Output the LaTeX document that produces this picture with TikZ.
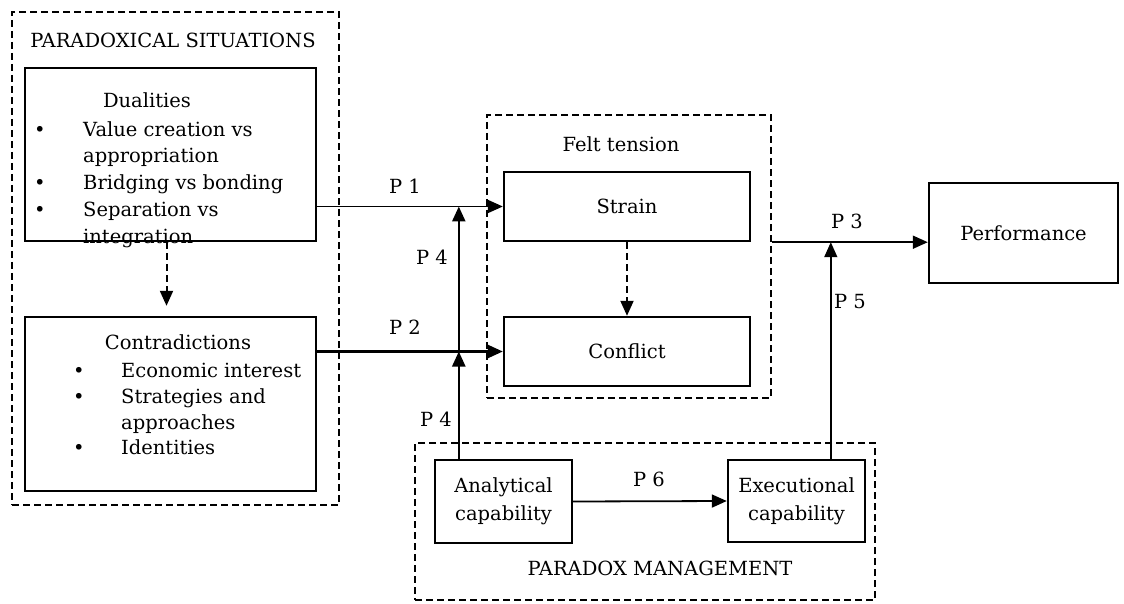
\documentclass[tikz,border=0pt]{standalone}
\usepackage{fontspec}
\setmainfont{DejaVu Serif}
\usetikzlibrary{arrows.meta,calc}

\begin{document}
\begin{tikzpicture}[x=1pt,y=-1pt,
  font=\fontsize{19.5}{28}\selectfont,
  box/.style={draw,line width=2.4pt,inner sep=0pt,align=center},
  group/.style={draw,line width=2.2pt,dash pattern=on 7pt off 4pt,inner sep=0pt},
  link/.style={line width=1.8pt,-{Triangle[length=15pt,width=13pt]}},
  dlink/.style={link,line width=2pt,dash pattern=on 7pt off 4pt},
  lab/.style={anchor=base,inner sep=0pt},
  item/.style={anchor=base west,inner sep=0pt}]

\useasboundingbox (0,0) rectangle (1124,604);

% dashed groups
\node[group,minimum width=327pt,minimum height=493pt] (sit) at (175.5,258.5) {};
\node[group,minimum width=284pt,minimum height=283pt] (felt) at (629,256.5) {};
\node[group,minimum width=460pt,minimum height=157pt] (mgmt) at (645,521.5) {};

% solid boxes
\node[box,minimum width=291pt,minimum height=173pt] (dual) at (170.5,154.5) {};
\node[box,minimum width=291pt,minimum height=174pt] (contra) at (170.5,404) {};
\node[box,minimum width=246pt,minimum height=69pt] (strain) at (627,206.5) {Strain};
\node[box,minimum width=246pt,minimum height=69pt] (conflict) at (627,351.5) {Conflict};
\node[box,minimum width=189pt,minimum height=100pt] (perf) at (1023.5,233) {Performance};
\node[box,minimum width=137pt,minimum height=83pt] (anal) at (503.5,501.5) {Analytical\\capability};
\node[box,minimum width=137pt,minimum height=82pt] (exec) at (796.5,501) {Executional\\capability};

% group titles
\node[lab] (sittitle) at (173,48) {PARADOXICAL SITUATIONS};
\node[lab] (felttitle) at (621,152) {Felt tension};
\node[lab] (mgmttitle) at (660,575) {PARADOX MANAGEMENT};

% dualities list
\node[lab] (dualtitle) at (147,108) {Dualities};
\node[lab] (db1) at (40,137) {•};
\node[lab] (db2) at (40,190) {•};
\node[lab] (db3) at (40,217) {•};
\node[item] (d1) at (83,137) {Value creation vs};
\node[item] (d2) at (83,163) {appropriation};
\node[item] (d3) at (83,190) {Bridging vs bonding};
\node[item] (d4) at (83,217) {Separation vs};
\node[item] (d5) at (83,243) {integration};

% contradictions list
\node[lab] (contratitle) at (178,349) {Contradictions};
\node[lab] (cb1) at (79,377) {•};
\node[lab] (cb2) at (79,403) {•};
\node[lab] (cb3) at (79,454) {•};
\node[item] (c1) at (121,377) {Economic interest};
\node[item] (c2) at (121,403) {Strategies and};
\node[item] (c3) at (121,429) {approaches};
\node[item] (c4) at (121,454) {Identities};

% anchor points on box edges
\coordinate (a4) at ($(anal.north west)+(25,0)$);
\coordinate (e5) at ($(exec.north west)+(104,0)$);
\coordinate (dd) at ($(dual.south)+(-4,0)$);

% connectors
\draw[dlink,shorten >=10pt] (dd) -- (dd |- contra.north);
\draw[link] (dual.east |- strain.west) -- (strain.west);
\draw[link,line width=2.4pt] (contra.east |- conflict.west) -- (conflict.west);
\draw[link,line width=2.4pt] (a4) -- (a4 |- conflict.west);
\draw[link,line width=2.4pt] (a4 |- conflict.west) -- (a4 |- strain.west);
\draw[dlink] (strain.south) -- (conflict.north);
\draw[link] (felt.east |- strain.south) -- (perf.west |- strain.south);
\draw[link,line width=1.4pt] (e5) -- (e5 |- strain.south);
\draw[link] (anal.east) -- (exec.west);

% proposition labels
\node[lab] (p1) at (405,194) {P 1};
\node[lab] (p2) at (405,334) {P 2};
\node[lab] (p4a) at (432,264) {P 4};
\node[lab] (p4b) at (436,426) {P 4};
\node[lab] (p3) at (847,229) {P 3};
\node[lab] (p5) at (850,308) {P 5};
\node[lab] (p6) at (649,486) {P 6};
\end{tikzpicture}
\end{document}
